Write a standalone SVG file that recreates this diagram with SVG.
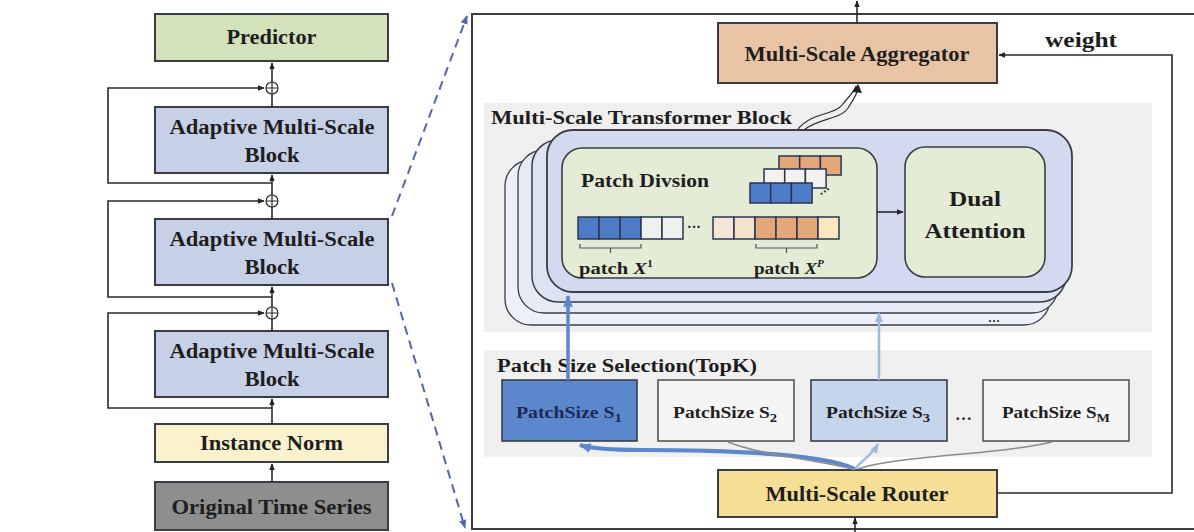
<svg xmlns="http://www.w3.org/2000/svg" width="1194" height="532" viewBox="0 0 1194 532">
<defs>
<marker id="ah" viewBox="0 0 10 10" refX="9" refY="5" markerWidth="7" markerHeight="7" orient="auto" markerUnits="userSpaceOnUse"><path d="M0,1 L10,5 L0,9 Z" fill="#222"/></marker>
<marker id="ahb" viewBox="0 0 10 10" refX="9" refY="5" markerWidth="12" markerHeight="12" orient="auto" markerUnits="userSpaceOnUse"><path d="M0,1 L10,5 L0,9 Z" fill="#5b87cc"/></marker>
<marker id="ahl" viewBox="0 0 10 10" refX="9" refY="5" markerWidth="10" markerHeight="10" orient="auto" markerUnits="userSpaceOnUse"><path d="M0,1 L10,5 L0,9 Z" fill="#9fb8de"/></marker>
<marker id="ahd" viewBox="0 0 10 10" refX="9" refY="5" markerWidth="9" markerHeight="9" orient="auto" markerUnits="userSpaceOnUse"><path d="M0,1 L10,5 L0,9 Z" fill="#5563b8"/></marker>
</defs>
<style>
text{font-family:"Liberation Serif","Times New Roman",serif;font-weight:bold;fill:#1e1e1e}
.box{stroke:#3a3d45;stroke-width:2}
.ln{fill:none;stroke:#2a2a2a;stroke-width:1.6}
.cell{stroke:#2b3550;stroke-width:1.5}
.c{text-anchor:middle}
</style>
<rect width="1194" height="532" fill="#ffffff"/>

<!-- main zoom box -->
<g id="main-frame">
<rect x="472" y="14" width="740" height="515" fill="#ffffff" stroke="#3a3d45" stroke-width="2"/>
<rect x="484" y="103" width="668" height="229" fill="#efefef"/>
<rect x="484" y="350" width="668" height="107" fill="#f0f0f0"/>
</g>

<!-- left column -->
<g id="predictor"><rect class="box" x="155" y="14" width="233" height="47" fill="#d4e2bb"/><text class="c" x="271.5" y="44" font-size="20" textLength="90" lengthAdjust="spacingAndGlyphs">Predictor</text></g>
<g id="block1"><rect class="box" x="155" y="107" width="233" height="66" fill="#c6d0e6"/><text class="c" x="272" y="134" font-size="20" textLength="205" lengthAdjust="spacingAndGlyphs">Adaptive Multi-Scale</text><text class="c" x="272" y="162" font-size="20" textLength="55" lengthAdjust="spacingAndGlyphs">Block</text></g>
<g id="block2"><rect class="box" x="155" y="219" width="233" height="66" fill="#c6d0e6"/><text class="c" x="272" y="246" font-size="20" textLength="205" lengthAdjust="spacingAndGlyphs">Adaptive Multi-Scale</text><text class="c" x="272" y="274" font-size="20" textLength="55" lengthAdjust="spacingAndGlyphs">Block</text></g>
<g id="block3"><rect class="box" x="155" y="331" width="233" height="66" fill="#c6d0e6"/><text class="c" x="272" y="358" font-size="20" textLength="205" lengthAdjust="spacingAndGlyphs">Adaptive Multi-Scale</text><text class="c" x="272" y="386" font-size="20" textLength="55" lengthAdjust="spacingAndGlyphs">Block</text></g>
<g id="instance-norm"><rect class="box" x="155" y="424" width="233" height="38" fill="#f9f2cc"/><text class="c" x="271.5" y="450" font-size="20" textLength="143" lengthAdjust="spacingAndGlyphs">Instance Norm</text></g>
<g id="original-ts"><rect class="box" x="155" y="482" width="233" height="48" fill="#8e8e8e"/><text class="c" x="271.5" y="514" font-size="20" textLength="200" lengthAdjust="spacingAndGlyphs">Original Time Series</text></g>
<g id="adders" fill="#ffffff" stroke="#2a2a2a" stroke-width="1.2">
<circle cx="272" cy="88" r="6"/><path d="M266,88H278M272,82V94"/>
<circle cx="272" cy="201" r="6"/><path d="M266,201H278M272,195V207"/>
<circle cx="272" cy="313" r="6"/><path d="M266,313H278M272,307V319"/>
</g>

<!-- transformer block stack -->
<g id="transformer-stack">
<rect x="505" y="160" width="545" height="165" rx="26" fill="#eef0f7" stroke="#3a3d45" stroke-width="1.3"/>
<rect x="518" y="150" width="540" height="163" rx="26" fill="#e6eaf5" stroke="#3a3d45" stroke-width="1.3"/>
<rect x="532" y="140" width="534" height="162" rx="26" fill="#dde3f2" stroke="#3a3d45" stroke-width="1.5"/>
<rect x="547" y="130" width="525" height="162" rx="26" fill="#d3daf0" stroke="#3a3d45" stroke-width="1.8"/>
<text x="988" y="322" font-size="12" font-weight="normal">…</text>
</g>
<g id="transformer-label"><text x="491" y="124" font-size="19" textLength="301" lengthAdjust="spacingAndGlyphs">Multi-Scale Transformer Block</text></g>

<g id="patch-division">
<rect x="562" y="148" width="315" height="130" rx="20" fill="#e4ecd6" stroke="#3a3d45" stroke-width="1.6"/>
<text x="581" y="187" font-size="19" textLength="128" lengthAdjust="spacingAndGlyphs">Patch Divsion</text>
<g class="cell">
<rect x="779" y="156" width="20.7" height="19" fill="#e3a877"/><rect x="799.7" y="156" width="20.7" height="19" fill="#e3a877"/><rect x="820.4" y="156" width="20.7" height="19" fill="#e3a877"/>
<rect x="764" y="169" width="20.7" height="19" fill="#f4f2ee"/><rect x="784.7" y="169" width="20.7" height="19" fill="#f4f2ee"/><rect x="805.4" y="169" width="20.7" height="19" fill="#f4f2ee"/>
<rect x="750" y="183" width="20.7" height="20" fill="#4f7cc9"/><rect x="770.7" y="183" width="20.7" height="20" fill="#4f7cc9"/><rect x="791.4" y="183" width="20.7" height="20" fill="#4f7cc9"/>
</g>
<text x="818" y="194" font-size="12" font-weight="normal" transform="rotate(-35 826 190)">⋯</text>
<g class="cell">
<rect x="578" y="217" width="21" height="22" fill="#4f7cc9"/><rect x="599" y="217" width="21" height="22" fill="#4f7cc9"/><rect x="620" y="217" width="21" height="22" fill="#4f7cc9"/><rect x="641" y="217" width="21" height="22" fill="#eef0ee"/><rect x="662" y="217" width="21" height="22" fill="#eef0ee"/>
<rect x="713" y="217" width="21" height="22" fill="#f3e6d8"/><rect x="734" y="217" width="21" height="22" fill="#f6e3cc"/><rect x="755" y="217" width="21" height="22" fill="#e3a877"/><rect x="776" y="217" width="21" height="22" fill="#e3a877"/><rect x="797" y="217" width="21" height="22" fill="#e3a877"/><rect x="818" y="217" width="21" height="22" fill="#f8e8c0"/>
</g>
<text x="687" y="232" font-size="14">···</text>
<path d="M580,244V248H641V244M610.5,248V253" fill="none" stroke="#555" stroke-width="1.2"/>
<path d="M756,244V248H817V244M786.5,248V253" fill="none" stroke="#555" stroke-width="1.2"/>
<text x="579" y="274" font-size="17" textLength="74" lengthAdjust="spacingAndGlyphs">patch <tspan font-style="italic">X</tspan><tspan font-size="10" dy="-7">1</tspan></text>
<text x="754" y="274" font-size="17" textLength="70" lengthAdjust="spacingAndGlyphs">patch <tspan font-style="italic">X</tspan><tspan font-size="10" dy="-7" font-style="italic">P</tspan></text>
</g>

<g id="dual-attention">
<rect x="905" y="147" width="140" height="130" rx="20" fill="#e4ecd6" stroke="#3a3d45" stroke-width="1.6"/>
<text class="c" x="975" y="206" font-size="22" textLength="52" lengthAdjust="spacingAndGlyphs">Dual</text>
<text class="c" x="975" y="238" font-size="22" textLength="101" lengthAdjust="spacingAndGlyphs">Attention</text>
</g>

<g id="aggregator"><rect class="box" x="718" y="23" width="279" height="60" fill="#e8c4a4"/><text class="c" x="857" y="61" font-size="20" textLength="225" lengthAdjust="spacingAndGlyphs">Multi-Scale Aggregator</text></g>
<g id="weight-label"><text x="1045" y="47" font-size="21" textLength="72" lengthAdjust="spacingAndGlyphs">weight</text></g>

<g id="selection-label"><text x="497" y="372" font-size="18" textLength="260" lengthAdjust="spacingAndGlyphs">Patch Size Selection(TopK)</text></g>
<g id="ps1"><rect x="502" y="380" width="135" height="61" fill="#5b87cc" stroke="#3a3d45" stroke-width="1.6"/><text x="516" y="418" font-size="16" textLength="106" lengthAdjust="spacingAndGlyphs" style="fill:#1a2a55">PatchSize S<tspan font-size="12" dy="4">1</tspan></text></g>
<g id="ps2"><rect x="658" y="380" width="136" height="61" fill="#f5f5f5" stroke="#555" stroke-width="1.6"/><text x="673" y="418" font-size="16" textLength="104" lengthAdjust="spacingAndGlyphs">PatchSize S<tspan font-size="12" dy="4">2</tspan></text></g>
<g id="ps3"><rect x="811" y="380" width="136" height="61" fill="#c5d5ec" stroke="#3a3d45" stroke-width="1.6"/><text x="826" y="418" font-size="16" textLength="104" lengthAdjust="spacingAndGlyphs">PatchSize S<tspan font-size="12" dy="4">3</tspan></text></g>
<g id="ps-dots"><text x="955" y="420" font-size="17">…</text></g>
<g id="psM"><rect x="983" y="380" width="146" height="61" fill="#f5f5f5" stroke="#555" stroke-width="1.6"/><text x="1002" y="418" font-size="16" textLength="108" lengthAdjust="spacingAndGlyphs">PatchSize S<tspan font-size="12" dy="4">M</tspan></text></g>
<g id="router"><rect class="box" x="718" y="470" width="279" height="47" fill="#f5df96"/><text class="c" x="857" y="501" font-size="20" textLength="183" lengthAdjust="spacingAndGlyphs">Multi-Scale Router</text></g>

<!-- connectors -->
<g id="connectors">
<path class="ln" d="M272,482V464" marker-end="url(#ah)"/>
<path class="ln" d="M272,424V399" marker-end="url(#ah)"/>
<path class="ln" d="M272,408H108V313H264" marker-end="url(#ah)"/>
<path class="ln" d="M272,331V319"/>
<path class="ln" d="M272,307V287" marker-end="url(#ah)"/>
<path class="ln" d="M272,297H108V201H264" marker-end="url(#ah)"/>
<path class="ln" d="M272,219V207"/>
<path class="ln" d="M272,195V175" marker-end="url(#ah)"/>
<path class="ln" d="M272,183H108V88H264" marker-end="url(#ah)"/>
<path class="ln" d="M272,107V94"/>
<path class="ln" d="M272,82V63" marker-end="url(#ah)"/>
<path d="M392,216L467,16" fill="none" stroke="#5563b8" stroke-width="2" stroke-dasharray="9,6" marker-end="url(#ahd)"/>
<path d="M392,283L465,528" fill="none" stroke="#5563b8" stroke-width="2" stroke-dasharray="9,6" marker-end="url(#ahd)"/>
<path class="ln" d="M857,23V1" marker-end="url(#ah)"/>
<path class="ln" d="M855,532V518" marker-end="url(#ah)"/>
<path class="ln" d="M997,493H1172V55H999" marker-end="url(#ah)"/>
<path class="ln" d="M877,212H903" marker-end="url(#ah)"/>
<path d="M798,129C812,112 835,115 842,105C848,97 853,94 856,86" fill="none" stroke="#333" stroke-width="1.2"/>
<path d="M804,130C818,118 840,120 848,108C853,100 857,95 859,86" fill="none" stroke="#333" stroke-width="1.2"/>
<path d="M852,92L858,84L862,93Z" fill="#222"/>
<path d="M568,380V296" fill="none" stroke="#5b87cc" stroke-width="3.5" marker-end="url(#ahb)"/>
<path d="M879,380V313" fill="none" stroke="#9fb8de" stroke-width="2.5" marker-end="url(#ahl)"/>
<path d="M855,469C820,452 700,450 640,450C610,450 590,448 580,445" fill="none" stroke="#5b87cc" stroke-width="4" marker-end="url(#ahb)"/>
<path d="M852,469C820,460 760,455 728,442" fill="none" stroke="#8c8c8c" stroke-width="1.5"/>
<path d="M855,469C862,460 872,455 878,444" fill="none" stroke="#9fb8de" stroke-width="2.5" marker-end="url(#ahl)"/>
<path d="M858,469C900,455 1000,455 1052,442" fill="none" stroke="#8c8c8c" stroke-width="1.5"/>
</g>
</svg>
